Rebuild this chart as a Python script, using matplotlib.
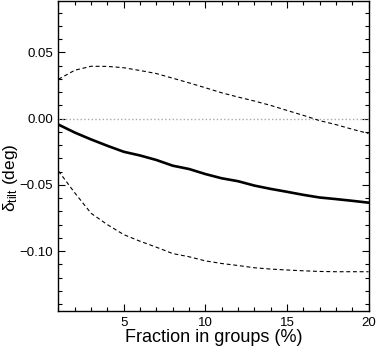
import matplotlib
matplotlib.use("Agg")
import matplotlib.pyplot as plt
from matplotlib.ticker import MultipleLocator, FuncFormatter

plt.rcParams["font.family"] = ["Liberation Sans", "DejaVu Sans"]
plt.rcParams["mathtext.fontset"] = "custom"
plt.rcParams["mathtext.rm"] = "Liberation Sans"
plt.rcParams["mathtext.it"] = "Liberation Sans"

# fraction of stars in groups (%)
fraction = [1, 2, 3, 4, 5, 6, 7, 8, 9, 10, 11, 12, 13, 14, 15, 16, 17, 18, 19, 20]
# mean tilt offset
tilt_mean = [-0.0045, -0.0105, -0.0157, -0.0205, -0.0250, -0.0278, -0.0312, -0.0355,
             -0.0380, -0.0418, -0.0450, -0.0472, -0.0505, -0.0530, -0.0552, -0.0575,
             -0.0595, -0.0607, -0.0620, -0.0634]
# upper / lower bounds
tilt_upper = [0.0297, 0.0365, 0.0395, 0.0394, 0.0384, 0.0363, 0.0340, 0.0305,
              0.0270, 0.0233, 0.0195, 0.0163, 0.0133, 0.0100, 0.0062, 0.0025,
              -0.0015, -0.0045, -0.0080, -0.0112]
tilt_lower = [-0.0395, -0.0560, -0.0714, -0.0800, -0.0875, -0.0925, -0.0970, -0.1018,
              -0.1042, -0.1073, -0.1093, -0.1108, -0.1125, -0.1135, -0.1142, -0.1148,
              -0.1153, -0.1155, -0.1155, -0.1155]

fig = plt.figure(figsize=(3.82, 3.57), dpi=100)
ax = fig.add_axes([0.153, 0.1275, 0.8117, 0.8688])

ax.axhline(0.0, color="#aaaaaa", ls=":", lw=1.0)
ax.plot(fraction, tilt_mean, color="black", lw=1.9)
ax.plot(fraction, tilt_upper, color="black", lw=0.8, ls=(0, (3.5, 2.5)))
ax.plot(fraction, tilt_lower, color="black", lw=0.8, ls=(0, (3.5, 2.5)))

ax.set_xlim(1, 20)
ax.set_ylim(-0.1455, 0.0885)
ax.xaxis.set_major_locator(MultipleLocator(5))
ax.xaxis.set_minor_locator(MultipleLocator(1))
ax.yaxis.set_major_locator(MultipleLocator(0.05))
ax.yaxis.set_minor_locator(MultipleLocator(0.01))
ax.yaxis.set_major_formatter(
    FuncFormatter(lambda v, pos: f"{v:.2f}".replace("-", "\u2212")))
ax.tick_params(which="both", direction="in", top=True, right=True, width=0.8,
               labelsize=9.5, pad=4)
ax.tick_params(which="major", length=5)
ax.tick_params(which="minor", length=3)
for s in ax.spines.values():
    s.set_linewidth(1.0)

ax.set_xlabel("Fraction in groups (%)", fontsize=13, labelpad=0)
ax.set_ylabel(r"$\delta_{\rm tilt}$ (deg)", fontsize=12.5)
ax.yaxis.set_label_coords(-0.125, 0.43)

fig.savefig("out.png", dpi=100)
